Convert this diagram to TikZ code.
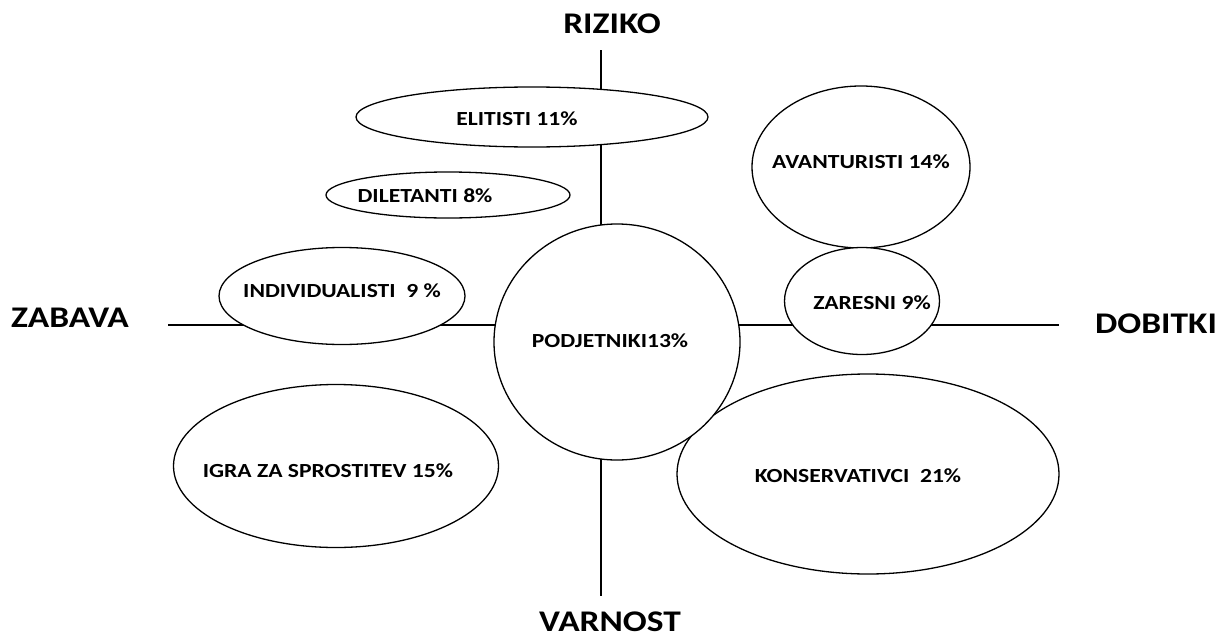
\documentclass[tikz,border=0pt]{standalone}
\usepackage{fontspec}
\setmainfont{Carlito}[FakeStretch=1.18]
\usetikzlibrary{shapes.geometric}
\begin{document}
\begin{tikzpicture}[x=1pt,y=-1pt,
  oval/.style={draw=black, line width=1.3pt, fill=white, ellipse, inner sep=0pt},
  tag/.style={font=\bfseries\fontsize{20}{22}\selectfont, inner sep=0pt, anchor=base},
  axisname/.style={font=\bfseries\fontsize{30}{32}\selectfont, inner sep=0pt, anchor=base},
  axisline/.style={line width=1.6pt}]
\useasboundingbox (0,0) rectangle (1231,637);
% axes
\coordinate (top) at (601,50);
\coordinate (bot) at (601,596);
\coordinate (lft) at (168,325);
\coordinate (rgt) at (1059,325);
\draw[axisline] (top) -- (bot);
\draw[axisline] (lft) -- (rgt);
\node[axisname] (riziko) at (612,33) {RIZIKO};
\node[axisname] (varnost) at (610,631) {VARNOST};
\node[axisname] (zabava) at (70,327) {ZABAVA};
\node[axisname] (dobitki) at (1156,333) {DOBITKI};
% groups
\node[oval, minimum width=352, minimum height=60] (elit) at (532,117) {};
\node[oval, minimum width=244, minimum height=46] (dilet) at (448,195) {};
\node[oval, minimum width=218, minimum height=162] (avant) at (861,167) {};
\node[oval, minimum width=246, minimum height=97] (indiv) at (342,296) {};
\node[oval, minimum width=382, minimum height=200] (kons) at (868,474) {};
\node[oval, minimum width=246, minimum height=236] (podj) at (617,342) {};
\node[oval, minimum width=155, minimum height=107] (zares) at (862,301) {};
\node[oval, minimum width=325, minimum height=163] (igra) at (336,466) {};
\node[tag] (telit) at (517,125) {ELITISTI 11\%};
\node[tag] (tdilet) at (425,202) {DILETANTI 8\%};
\node[tag] (tavant) at (861,168) {AVANTURISTI 14\%};
\node[tag] (tindiv) at (342,297) {INDIVIDUALISTI\ \ 9 \%};
\node[tag] (tpodj) at (610,347) {PODJETNIKI13\%};
\node[tag] (tzares) at (872,309) {ZARESNI 9\%};
\node[tag] (tigra) at (328,477) {IGRA ZA SPROSTITEV 15\%};
\node[tag] (tkons) at (858,482) {KONSERVATIVCI\ \ 21\%};
\end{tikzpicture}
\end{document}
